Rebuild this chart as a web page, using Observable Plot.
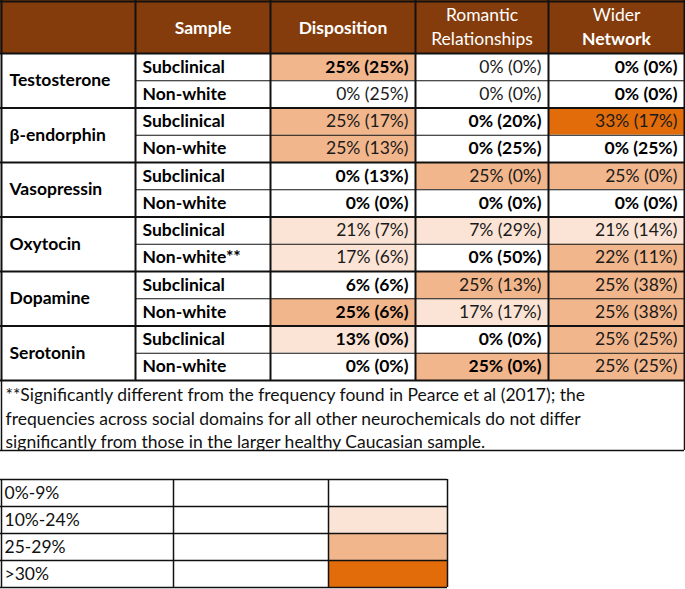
<!DOCTYPE html>
<html>
<head>
<meta charset="utf-8">
<script src="https://cdn.jsdelivr.net/npm/d3@7"></script>
<script src="https://cdn.jsdelivr.net/npm/@observablehq/plot@0.6"></script>
<style>
  html, body { margin: 0; padding: 0; background: #fff; }
  #chart svg { display: block; }
</style>
</head>
<body>
<div id="chart"></div>
<script>
// ---------- DATA ----------
const neurochemicals = ["Testosterone", "β-endorphin", "Vasopressin", "Oxytocin", "Dopamine", "Serotonin"];
const sampleLabels = ["Subclinical", "Non-white", "Subclinical", "Non-white", "Subclinical", "Non-white",
                      "Subclinical", "Non-white**", "Subclinical", "Non-white", "Subclinical", "Non-white"];
const domainHeaders = ["Disposition", "Romantic Relationships", "Wider Network"];
const disposition = ["25% (25%)", "0% (25%)", "25% (17%)", "25% (13%)", "0% (13%)", "0% (0%)",
                     "21% (7%)", "17% (6%)", "6% (6%)", "25% (6%)", "13% (0%)", "0% (0%)"];
const romantic = ["0% (0%)", "0% (0%)", "0% (20%)", "0% (25%)", "25% (0%)", "0% (0%)",
                  "7% (29%)", "0% (50%)", "25% (13%)", "17% (17%)", "0% (0%)", "25% (0%)"];
const wider = ["0% (0%)", "0% (0%)", "33% (17%)", "0% (25%)", "25% (0%)", "0% (0%)",
               "21% (14%)", "22% (11%)", "25% (38%)", "25% (38%)", "25% (25%)", "25% (25%)"];
// frequency band of each cell (index into bands)
const bands = ["0%-9%", "10%-24%", "25-29%", ">30%"];
const dispositionBand = [2, 0, 2, 2, 0, 0, 1, 1, 0, 2, 1, 0];
const romanticBand    = [0, 0, 0, 0, 2, 0, 1, 0, 2, 1, 0, 2];
const widerBand       = [0, 0, 3, 0, 2, 0, 1, 2, 2, 2, 2, 2];
// cells emphasised in the source table
const dispositionEmph = [1, 0, 0, 0, 1, 1, 0, 0, 1, 1, 1, 1];
const romanticEmph    = [0, 0, 1, 1, 0, 1, 0, 1, 0, 0, 1, 1];
const widerEmph       = [1, 1, 0, 1, 0, 1, 0, 0, 0, 0, 0, 0];
const footnote = [
  "**Significantly different from the frequency found in Pearce et al (2017); the",
  "frequencies across social domains for all other neurochemicals do not differ",
  "significantly from those in the larger healthy Caucasian sample."
];

// ---------- LAYOUT ----------
const W = 685, H = 589;
const colEdges = [0, 135, 270, 415, 548, 684];
const headerH = 53;
const rowH = 27.25;
const nRows = sampleLabels.length;
const tableBottom = headerH + nRows * rowH;
const footBottom = 450;
const legTop = 479, legRowH = 27, legCols = [0, 173, 328, 447];
const FONT = "Lato, 'Open Sans', sans-serif";
const FS = 17.5;
const brown = "#843C0C";
const tierColors = ["#ffffff", "#FBE4D5", "#F2B68C", "#E36C0A"];

const values = [disposition, romantic, wider];
const tiers = [dispositionBand, romanticBand, widerBand];
const emph = [dispositionEmph, romanticEmph, widerEmph];

const rowTop = i => headerH + i * rowH;

const cells = [];
values.forEach((col, j) => col.forEach((v, i) => cells.push({
  label: v, band: bands[tiers[j][i]], bold: emph[j][i] === 1,
  x1: colEdges[j + 2], x2: colEdges[j + 3], y1: rowTop(i), y2: rowTop(i) + rowH
})));

const sampleCells = sampleLabels.map((s, i) => ({label: s, x: colEdges[1] + 7, y: rowTop(i) + rowH / 2}));
const groupCells = neurochemicals.map((n, g) => ({label: n, x: 9, y: rowTop(2 * g) + rowH}));

// header text lines
const headerText = [
  {label: "Sample", x: (colEdges[1] + colEdges[2]) / 2, y: headerH / 2 + 1, bold: true},
  {label: "Disposition", x: (colEdges[2] + colEdges[3]) / 2, y: headerH / 2 + 1, bold: true},
  {label: domainHeaders[1].split(" ")[0], x: (colEdges[3] + colEdges[4]) / 2, y: 15, bold: false},
  {label: domainHeaders[1].split(" ")[1], x: (colEdges[3] + colEdges[4]) / 2, y: 39, bold: false},
  {label: domainHeaders[2].split(" ")[0], x: (colEdges[4] + colEdges[5]) / 2, y: 15, bold: false},
  {label: domainHeaders[2].split(" ")[1], x: (colEdges[4] + colEdges[5]) / 2, y: 39, bold: true}
];

// grid lines
const hLines = [];
hLines.push({y: 1, x1: 0, x2: colEdges[5], w: 2});
hLines.push({y: headerH, x1: 0, x2: colEdges[5], w: 2});
for (let i = 1; i < nRows; i++) {
  const major = i % 2 === 0;
  hLines.push({y: rowTop(i), x1: major ? 0 : colEdges[1], x2: colEdges[5], w: major ? 2 : 1.2});
}
hLines.push({y: tableBottom, x1: 0, x2: colEdges[5], w: 2});
hLines.push({y: footBottom, x1: 0, x2: colEdges[5], w: 1.5});
const vLines = colEdges.map((x, k) => ({x: k === 0 ? 1 : x, y1: 0, y2: tableBottom, w: 2}));
vLines.push({x: 1, y1: tableBottom, y2: footBottom, w: 1.5});
vLines.push({x: colEdges[5], y1: tableBottom, y2: footBottom, w: 1.5});

// legend
const legendFill = bands.map((b, k) => ({band: b, x1: legCols[2], x2: legCols[3], y1: legTop + k * legRowH, y2: legTop + (k + 1) * legRowH}));
const legendText = bands.map((b, k) => ({label: b, x: legCols[0] + 4, y: legTop + k * legRowH + legRowH / 2}));
const legH = bands.map((b, k) => ({y: legTop + k * legRowH, x1: 0, x2: legCols[3]})).concat([{y: legTop + bands.length * legRowH, x1: 0, x2: legCols[3]}]);
const legV = legCols.map(x => ({x: x === 0 ? 1 : x, y1: legTop, y2: legTop + bands.length * legRowH}));

const footText = footnote.map((t, k) => ({label: t, x: 5, y: tableBottom + 15 + k * 23.5}));

const txt = (data, opts) => Plot.text(data, {x: "x", y: "y", text: "label", fontSize: FS, ...opts});

const chart = Plot.plot({
  width: W, height: H, margin: 0,
  style: {fontFamily: FONT, background: "#fff"},
  x: {domain: [0, W], range: [0, W], axis: null},
  y: {domain: [0, H], range: [0, H], axis: null},
  color: {type: "ordinal", domain: bands, range: tierColors},
  marks: [
    Plot.rect([{x1: 0, x2: colEdges[5], y1: 0, y2: headerH}], {x1: "x1", x2: "x2", y1: "y1", y2: "y2", fill: brown}),
    Plot.rect(cells, {x1: "x1", x2: "x2", y1: "y1", y2: "y2", fill: "band"}),
    Plot.rect(legendFill, {x1: "x1", x2: "x2", y1: "y1", y2: "y2", fill: "band"}),
    Plot.ruleY(hLines, {y: "y", x1: "x1", x2: "x2", stroke: "#111", strokeWidth: "w"}),
    Plot.ruleX(vLines, {x: "x", y1: "y1", y2: "y2", stroke: "#111", strokeWidth: "w"}),
    Plot.ruleY(legH, {y: "y", x1: "x1", x2: "x2", stroke: "#111", strokeWidth: 1.5}),
    Plot.ruleX(legV, {x: "x", y1: "y1", y2: "y2", stroke: "#111", strokeWidth: 1.5}),
    txt(headerText.filter(d => d.bold), {fill: "#fff", fontWeight: "bold", textAnchor: "middle"}),
    txt(headerText.filter(d => !d.bold), {fill: "#fff", fontWeight: "normal", textAnchor: "middle"}),
    txt(groupCells, {fill: "#000", fontWeight: "bold", textAnchor: "start"}),
    txt(sampleCells, {fill: "#000", fontWeight: "bold", textAnchor: "start"}),
    Plot.text(cells.filter(d => d.bold), {x: d => d.x2 - 7, y: d => (d.y1 + d.y2) / 2, text: "label", fill: "#000", fontSize: FS, fontWeight: "bold", textAnchor: "end"}),
    Plot.text(cells.filter(d => !d.bold), {x: d => d.x2 - 7, y: d => (d.y1 + d.y2) / 2, text: "label", fill: "#1a1a1a", fontSize: FS, fontWeight: "normal", textAnchor: "end"}),
    txt(footText, {fill: "#111", textAnchor: "start"}),
    txt(legendText, {fill: "#111", textAnchor: "start"})
  ]
});
document.getElementById("chart").appendChild(chart);
</script>
</body>
</html>
